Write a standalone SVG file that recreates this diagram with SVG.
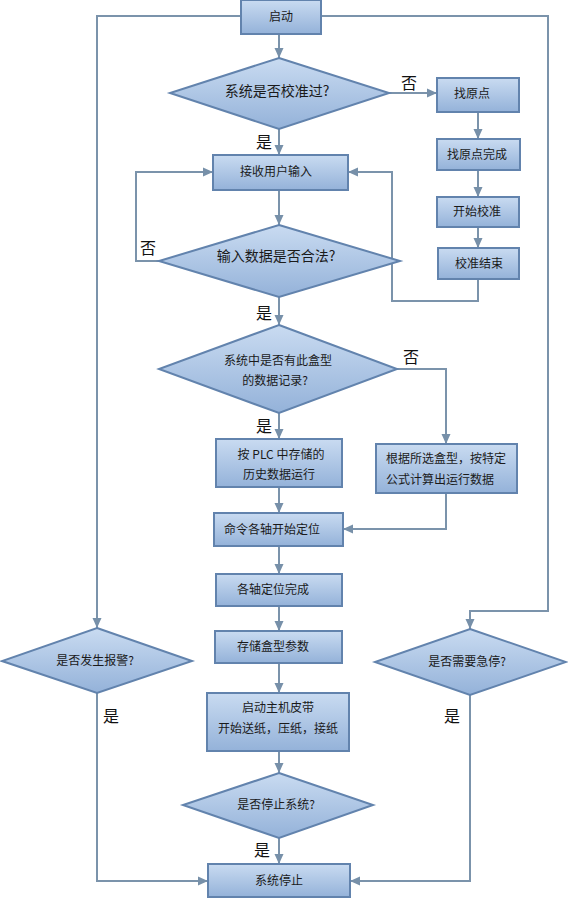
<svg xmlns="http://www.w3.org/2000/svg" width="568" height="900" viewBox="0 0 568 900">
<defs>
<linearGradient id="g" x1="0" y1="0" x2="0" y2="1">
<stop offset="0" stop-color="#c9dbf1"/>
<stop offset="1" stop-color="#94b2d9"/>
</linearGradient>
<marker id="a" markerUnits="userSpaceOnUse" markerWidth="10" markerHeight="10" viewBox="0 0 10 10" refX="10" refY="5" orient="auto">
<path d="M0 0.5 L10 5 L0 9.5 Z" fill="#7790a9"/>
</marker>
</defs>
<style>
.n{fill:url(#g);stroke:#6283ad;stroke-width:2}
.c path{fill:none;stroke:#7b93ab;stroke-width:2;marker-end:url(#a)}
.t{font-family:"Noto Sans CJK SC","Noto Sans",sans-serif;font-size:12px;fill:#1a1a1a;text-anchor:middle}
.b{font-size:14px}
.l{font-family:"Noto Sans CJK SC","Noto Sans",sans-serif;font-size:16px;fill:#111;text-anchor:middle}
</style>
<rect width="568" height="900" fill="#ffffff"/>
<g class="c" id="connectors">
<path d="M279 34 V58"/>
<path d="M389 93 H437"/>
<path d="M478 112 V139"/>
<path d="M478 170 V197"/>
<path d="M478 227 V248"/>
<path d="M478 279 V301 H392 V172 H348"/>
<path d="M279 129 V155"/>
<path d="M279 190 V225"/>
<path d="M159 261 H136 V172 H213"/>
<path d="M279 297 V325"/>
<path d="M397 369 H446 V444"/>
<path d="M279 413 V439"/>
<path d="M279 487 V513"/>
<path d="M446 493 V529 H343"/>
<path d="M279 546 V574"/>
<path d="M279 606 V631"/>
<path d="M279 663 V693"/>
<path d="M279 751 V773"/>
<path d="M279 838 V864"/>
<path d="M241 16 H97 V628"/>
<path d="M321 16 H548 V611 H470 V629"/>
<path d="M97 693 V881 H208"/>
<path d="M470 695 V881 H350"/>
</g>
<g id="start"><rect class="n" x="241" y="0" width="80" height="34"/><text class="t" x="281" y="21">启动</text></g>
<g id="d1"><polygon class="n" points="279,58 389,93 279,129 170,93"/><text class="t b" x="277" y="96">系统是否校准过?</text></g>
<g id="home"><rect class="n" x="437" y="78" width="82" height="34"/><text class="t" x="472" y="98">找原点</text></g>
<g id="homedone"><rect class="n" x="437" y="139" width="83" height="31"/><text class="t" x="477" y="159">找原点完成</text></g>
<g id="calib"><rect class="n" x="437" y="197" width="82" height="30"/><text class="t" x="477" y="216">开始校准</text></g>
<g id="calibend"><rect class="n" x="438" y="248" width="81" height="31"/><text class="t" x="479" y="268">校准结束</text></g>
<g id="input"><rect class="n" x="213" y="155" width="135" height="35"/><text class="t" x="276" y="176">接收用户输入</text></g>
<g id="d2"><polygon class="n" points="279,225 400,261 279,297 159,261"/><text class="t b" x="276" y="261">输入数据是否合法?</text></g>
<g id="d3"><polygon class="n" points="279,325 397,369 279,413 159,369"/><text class="t" x="278" y="365">系统中是否有此盒型</text><text class="t" x="275" y="385">的数据记录?</text></g>
<g id="plc"><rect class="n" x="216" y="439" width="126" height="48"/><text class="t" x="281" y="459">按 PLC 中存储的</text><text class="t" x="279" y="479">历史数据运行</text></g>
<g id="calc"><rect class="n" x="376" y="444" width="141" height="49"/><text class="t" x="386" y="463" style="text-anchor:start">根据所选盒型，按特定</text><text class="t" x="386" y="484" style="text-anchor:start">公式计算出运行数据</text></g>
<g id="cmd"><rect class="n" x="214" y="513" width="129" height="33"/><text class="t" x="224" y="534" style="text-anchor:start">命令各轴开始定位</text></g>
<g id="posdone"><rect class="n" x="216" y="574" width="126" height="32"/><text class="t" x="273" y="594">各轴定位完成</text></g>
<g id="store"><rect class="n" x="215" y="631" width="127" height="32"/><text class="t" x="273" y="651">存储盒型参数</text></g>
<g id="belt"><rect class="n" x="207" y="693" width="142" height="58"/><text class="t" x="278" y="712">启动主机皮带</text><text class="t" x="278" y="733">开始送纸，压纸，接纸</text></g>
<g id="d4"><polygon class="n" points="279,773 373,805 279,838 183,805"/><text class="t" x="276" y="809">是否停止系统?</text></g>
<g id="stop"><rect class="n" x="208" y="864" width="142" height="33"/><text class="t" x="279" y="885">系统停止</text></g>
<g id="alarm"><polygon class="n" points="97,628 192,661 97,693 2,661"/><text class="t" x="95" y="665">是否发生报警?</text></g>
<g id="estop"><polygon class="n" points="470,629 566,662 470,695 375,662"/><text class="t" x="467" y="666">是否需要急停?</text></g>
<g id="labels">
<text class="l" x="409" y="89">否</text>
<text class="l" x="264" y="148">是</text>
<text class="l" x="148" y="254">否</text>
<text class="l" x="264" y="319">是</text>
<text class="l" x="411" y="363">否</text>
<text class="l" x="264" y="432">是</text>
<text class="l" x="111" y="722">是</text>
<text class="l" x="452" y="722">是</text>
<text class="l" x="262" y="856">是</text>
</g>
</svg>
